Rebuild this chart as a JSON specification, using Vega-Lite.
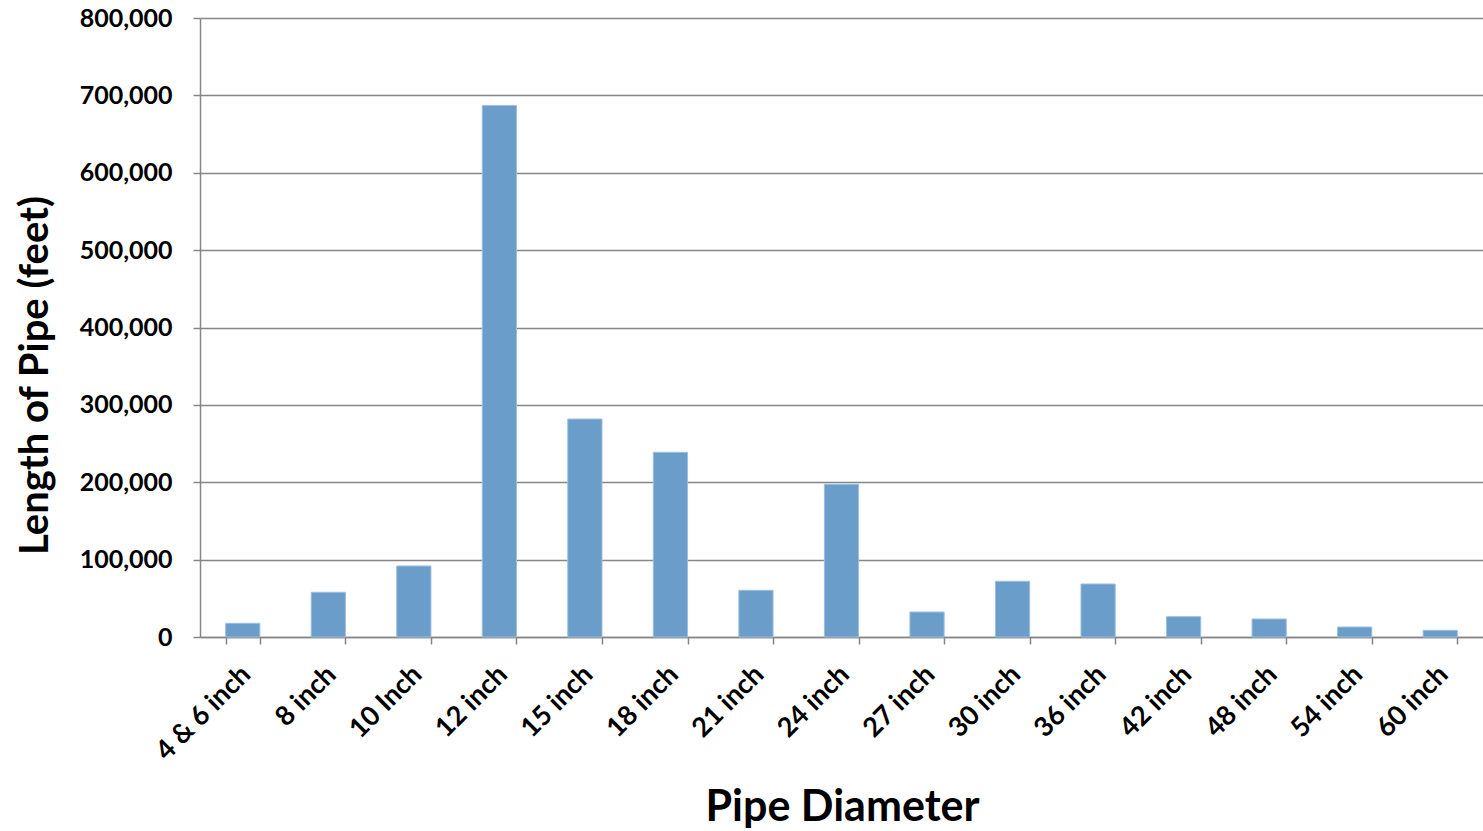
{
  "$schema": "https://vega.github.io/schema/vega-lite/v6.json",
  "autosize": "none",
  "width": 1283,
  "height": 619,
  "padding": {"left": 200, "top": 18, "right": 0, "bottom": 194},
  "background": "white",
  "config": {
    "font": "Lato",
    "view": {"stroke": null}
  },
  "data": {
    "values": [
      {"diameter": "4 & 6 inch", "length": 17700},
      {"diameter": "8 inch", "length": 57800},
      {"diameter": "10 Inch", "length": 91800},
      {"diameter": "12 inch", "length": 687000},
      {"diameter": "15 inch", "length": 281700},
      {"diameter": "18 inch", "length": 238700},
      {"diameter": "21 inch", "length": 60300},
      {"diameter": "24 inch", "length": 197400},
      {"diameter": "27 inch", "length": 32300},
      {"diameter": "30 inch", "length": 72000},
      {"diameter": "36 inch", "length": 68500},
      {"diameter": "42 inch", "length": 26300},
      {"diameter": "48 inch", "length": 23300},
      {"diameter": "54 inch", "length": 12900},
      {"diameter": "60 inch", "length": 8600}
    ]
  },
  "mark": {"type": "bar", "color": "#6A9DC9", "stroke": "#9DBFDF", "strokeWidth": 1},
  "encoding": {
    "x": {
      "field": "diameter",
      "type": "nominal",
      "sort": null,
      "scale": {"paddingInner": 0.6, "paddingOuter": 0.3},
      "axis": {
        "title": "Pipe Diameter",
        "titleFont": "Lato",
        "titleFontSize": 43,
        "titleFontWeight": "bold",
        "titleColor": "#000000",
        "titleX": 642,
        "titleY": 183,
        "titleAlign": "center",
        "titleBaseline": "alphabetic",
        "labelAngle": -45,
        "labelFont": "Lato",
        "labelFontSize": 27,
        "labelFontWeight": "bold",
        "labelColor": "#000000",
        "labelPadding": 17,
        "labelOffset": -6,
        "tickBand": "extent",
        "tickColor": "#868686",
        "tickWidth": 1.5,
        "tickSize": 7,
        "domainColor": "#868686",
        "domainWidth": 1.5,
        "grid": false
      }
    },
    "y": {
      "field": "length",
      "type": "quantitative",
      "scale": {"domain": [0, 800000], "nice": false},
      "axis": {
        "title": "Length of Pipe (feet)",
        "titleFont": "Lato",
        "titleFontSize": 40,
        "titleFontWeight": "bold",
        "titleColor": "#000000",
        "titleX": -165,
        "titleY": 357,
        "titleAlign": "center",
        "titleBaseline": "middle",
        "values": [0, 100000, 200000, 300000, 400000, 500000, 600000, 700000, 800000],
        "format": ",d",
        "labelFont": "Lato",
        "labelFontSize": 25,
        "labelFontWeight": "bold",
        "labelColor": "#000000",
        "labelPadding": 21,
        "tickColor": "#868686",
        "tickWidth": 1.5,
        "tickSize": 7,
        "domainColor": "#868686",
        "domainWidth": 1.5,
        "grid": true,
        "gridColor": "#868686",
        "gridWidth": 1.5
      }
    }
  }
}
